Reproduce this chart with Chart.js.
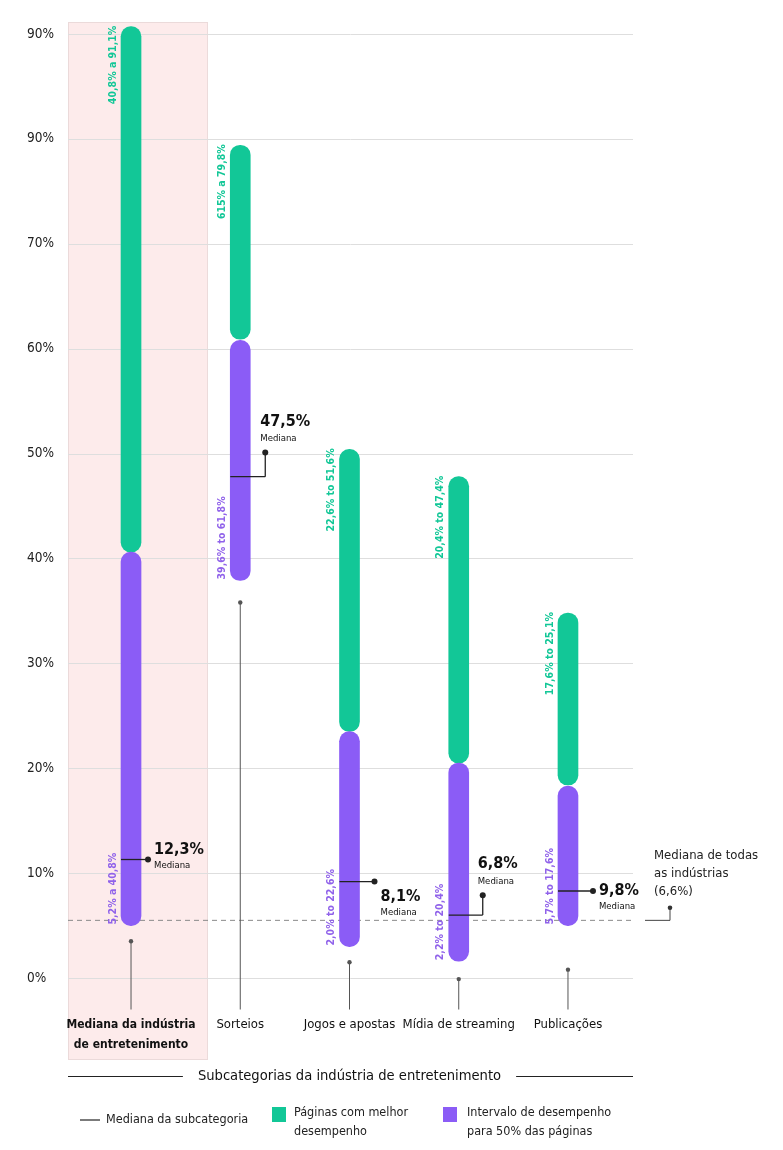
<!DOCTYPE html>
<html><head><meta charset="utf-8">
<script src="https://cdn.jsdelivr.net/npm/chart.js@4.4.1/dist/chart.umd.min.js"></script>
<style>html,body{margin:0;padding:0;background:#fff;}#wrap{width:783px;height:1150px;position:relative;}</style>
</head><body><div id="wrap"><canvas id="c" width="783" height="1150"></canvas></div>
<script>
// ---------- DATA ----------
const categories = [['Mediana da indústria', 'de entretenimento'], 'Sorteios', 'Jogos e apostas', 'Mídia de streaming', 'Publicações'];
const topLow   = [40.6, 60.9, 23.5, 20.5, 18.4];
const topHigh  = [90.7, 79.4, 50.4, 47.8, 34.8];
const rangeLow  = [5.0, 37.9, 3.0, 1.6, 5.0];
const rangeHigh = [40.6, 60.8, 23.5, 20.5, 18.3];
const topLabels   = ['40,8% a 91,1%', '615% a 79,8%', '22,6% to 51,6%', '20,4% to 47,4%', '17,6% to 25,1%'];
const rangeLabels = ['5,2% a 40,8%', '39,6% to 61,8%', '2,0% to 22,6%', '2,2% to 20,4%', '5,7% to 17,6%'];
const medianLine = [11.3, 47.8, 9.2, 6.0, 8.3];
const medianDot  = [11.3, 50.1, 9.2, 7.9, 8.3];
const medianText = ['12,3%', '47,5%', '8,1%', '6,8%', '9,8%'];
const stemDot = [3.5, 35.8, 1.5, -0.1, 0.8];
const allMedian = 5.5;
const allMedianDot = 6.7;
const allMedianLabel = ['Mediana de todas', 'as indústrias', '(6,6%)'];
const yTicks = [0, 10, 20, 30, 40, 50, 60, 70, 80, 90];
const yTickLabels = ['0%', '10%', '20%', '30%', '40%', '50%', '60%', '70%', '90%', '90%'];
const axisTitle = 'Subcategorias da indústria de entretenimento';
const legendItems = [['Mediana da subcategoria'], ['Páginas com melhor', 'desempenho'], ['Intervalo de desempenho', 'para 50% das páginas']];

// ---------- STYLE ----------
const FONT = '"DejaVu Sans Condensed", "Liberation Sans Narrow", Roboto, sans-serif';
const GREEN = '#12c797', PURPLE = '#8b5cf6', PURPLE_TXT = '#9062ea';
const style = {
  gridLeft: 68, gridRight: 633,
  dotOffset: [17, 25, 25, 24, 25],
  labelPos: ['right', 'above', 'below', 'above', 'right']
};
Chart.defaults.font.family = FONT;

function line(ctx, x0, y0, x1, y1) { ctx.beginPath(); ctx.moveTo(x0, y0); ctx.lineTo(x1, y1); ctx.stroke(); }
function dot(ctx, x, y, r) { ctx.beginPath(); ctx.arc(x, y, r, 0, Math.PI * 2); ctx.fill(); }

const decor = {
  id: 'decor',
  beforeDraw(chart) {
    const { ctx, scales: { x, y } } = chart;
    ctx.save();
    const c0 = x.getPixelForValue(0);
    ctx.fillStyle = '#fdebeb';
    ctx.fillRect(style.gridLeft, 22, c0 + 77 - style.gridLeft, 1038);
    ctx.strokeStyle = 'rgba(0,0,0,0.07)';
    ctx.lineWidth = 1;
    ctx.strokeRect(style.gridLeft + 0.5, 22.5, c0 + 77 - style.gridLeft - 1, 1037);
    ctx.strokeStyle = '#dedede';
    ctx.lineWidth = 1;
    yTicks.forEach(v => { const py = Math.round(y.getPixelForValue(v)) + 0.5; line(ctx, style.gridLeft, py, style.gridRight, py); });
    const ym = y.getPixelForValue(allMedian);
    ctx.strokeStyle = '#8a8a8a';
    ctx.setLineDash([5, 4]);
    line(ctx, style.gridLeft, ym, style.gridRight, ym);
    ctx.restore();
  },
  afterDatasetsDraw(chart) {
    const { ctx, chartArea: a, scales: { x, y } } = chart;
    ctx.save();
    categories.forEach((c, i) => {
      const cx = x.getPixelForValue(i);
      const left = cx - 10;
      const ys = y.getPixelForValue(stemDot[i]);
      ctx.strokeStyle = '#555'; ctx.fillStyle = '#555'; ctx.lineWidth = 1;
      line(ctx, cx, ys, cx, a.bottom);
      dot(ctx, cx, ys, 2.2);
      const yl = y.getPixelForValue(medianLine[i]);
      const yd = y.getPixelForValue(medianDot[i]);
      const dx = cx + style.dotOffset[i];
      ctx.strokeStyle = '#222'; ctx.fillStyle = '#222'; ctx.lineWidth = 1.3;
      line(ctx, left, yl, dx, yl);
      if (Math.abs(yd - yl) > 0.5) line(ctx, dx, yl, dx, yd);
      dot(ctx, dx, yd, 3);
      const pos = style.labelPos[i];
      let lx, by, sy;
      if (pos === 'right') { lx = dx + 6; by = yd - 10; sy = yd + 6; if (i === 4) { by = yd; sy = yd + 16; } }
      else if (pos === 'above') { lx = dx - 5; by = yd - 31; sy = yd - 14; }
      else { lx = dx + 6; by = yd + 15; sy = yd + 31; }
      ctx.fillStyle = '#111'; ctx.textAlign = 'left'; ctx.textBaseline = 'middle';
      ctx.font = 'bold 16px ' + FONT; ctx.fillText(medianText[i], lx, by);
      ctx.font = '9.5px ' + FONT; ctx.fillText('Mediana', lx, sy);
      const tx = cx - 18;
      ctx.font = 'bold 10.5px ' + FONT; ctx.textBaseline = 'middle';
      ctx.save(); ctx.translate(tx, y.getPixelForValue(topHigh[i]) - 1); ctx.rotate(-Math.PI / 2);
      ctx.textAlign = 'right'; ctx.fillStyle = GREEN; ctx.fillText(topLabels[i], 0, 0); ctx.restore();
      ctx.save(); ctx.translate(tx, y.getPixelForValue(rangeLow[i]) - 1); ctx.rotate(-Math.PI / 2);
      ctx.textAlign = 'left'; ctx.fillStyle = PURPLE_TXT; ctx.fillText(rangeLabels[i], 0, 0); ctx.restore();
    });
    const ym = y.getPixelForValue(allMedian), ymd = y.getPixelForValue(allMedianDot);
    ctx.strokeStyle = '#444'; ctx.fillStyle = '#333'; ctx.lineWidth = 1;
    line(ctx, 645, ym, 670, ym); line(ctx, 670, ym, 670, ymd); dot(ctx, 670, ymd, 2.3);
    ctx.fillStyle = '#222'; ctx.font = '13px ' + FONT; ctx.textAlign = 'left'; ctx.textBaseline = 'middle';
    allMedianLabel.forEach((t, k) => ctx.fillText(t, 654, ymd - 52 + k * 18));
    ctx.font = '14.6px ' + FONT;
    const tw = ctx.measureText(axisTitle).width;
    const tc = (x.left + x.right) / 2;
    ctx.strokeStyle = '#222'; ctx.lineWidth = 1.2;
    line(ctx, style.gridLeft, 1076.5, tc - tw / 2 - 15, 1076.5);
    line(ctx, tc + tw / 2 + 15, 1076.5, style.gridRight, 1076.5);
    ctx.font = '12.5px ' + FONT; ctx.fillStyle = '#222'; ctx.textBaseline = 'middle'; ctx.textAlign = 'left';
    line(ctx, 80, 1120, 100, 1120);
    ctx.fillText(legendItems[0][0], 106, 1120);
    ctx.fillStyle = GREEN; ctx.fillRect(272, 1107, 14, 15);
    ctx.fillStyle = '#222'; legendItems[1].forEach((t, k) => ctx.fillText(t, 294, 1113 + k * 19));
    ctx.fillStyle = PURPLE; ctx.fillRect(443, 1107, 14, 15);
    ctx.fillStyle = '#222'; legendItems[2].forEach((t, k) => ctx.fillText(t, 467, 1113 + k * 19));
    ctx.restore();
  }
};

new Chart(document.getElementById('c'), {
  type: 'bar',
  data: {
    labels: categories,
    datasets: [
      { label: 'Intervalo de desempenho para 50% das páginas', data: rangeLow.map((v, i) => [v, rangeHigh[i]]),
        backgroundColor: PURPLE, barThickness: 20, borderRadius: 10, borderSkipped: false, grouped: false },
      { label: 'Páginas com melhor desempenho', data: topLow.map((v, i) => [v, topHigh[i]]),
        backgroundColor: GREEN, barThickness: 20, borderRadius: 10, borderSkipped: false, grouped: false }
    ]
  },
  options: {
    responsive: false, animation: false, devicePixelRatio: 1,
    layout: { padding: { left: 27, right: 160.4, top: 18.3, bottom: 0 } },
    plugins: { legend: { display: false }, tooltip: { enabled: false } },
    scales: {
      x: {
        offset: true, grid: { display: false, drawTicks: false }, border: { display: false },
        ticks: { autoSkip: false, maxRotation: 0, padding: 5.5, color: '#111',
          font: ctx => ({ family: FONT, size: ctx.index === 0 ? 12 : 13, weight: ctx.index === 0 ? 'bold' : 'normal', lineHeight: ctx.index === 0 ? 1.667 : 1.54 }) },
        title: { display: true, text: axisTitle, color: '#111', font: { family: FONT, size: 14.6, lineHeight: 1.2 }, padding: { top: 0, bottom: 65 } },
        afterFit(s) { s.height = 140.5; }
      },
      y: {
        min: -3, max: 91.5, grid: { display: false, drawTicks: false }, border: { display: false },
        afterBuildTicks(s) { s.ticks = yTicks.map(v => ({ value: v })); },
        ticks: { crossAlign: 'far', color: '#222', font: { family: FONT, size: 13.5 }, callback: v => yTickLabels[yTicks.indexOf(v)] },
        afterFit(s) { s.width = 49.4; }
      }
    }
  },
  plugins: [decor]
});
</script></body></html>
